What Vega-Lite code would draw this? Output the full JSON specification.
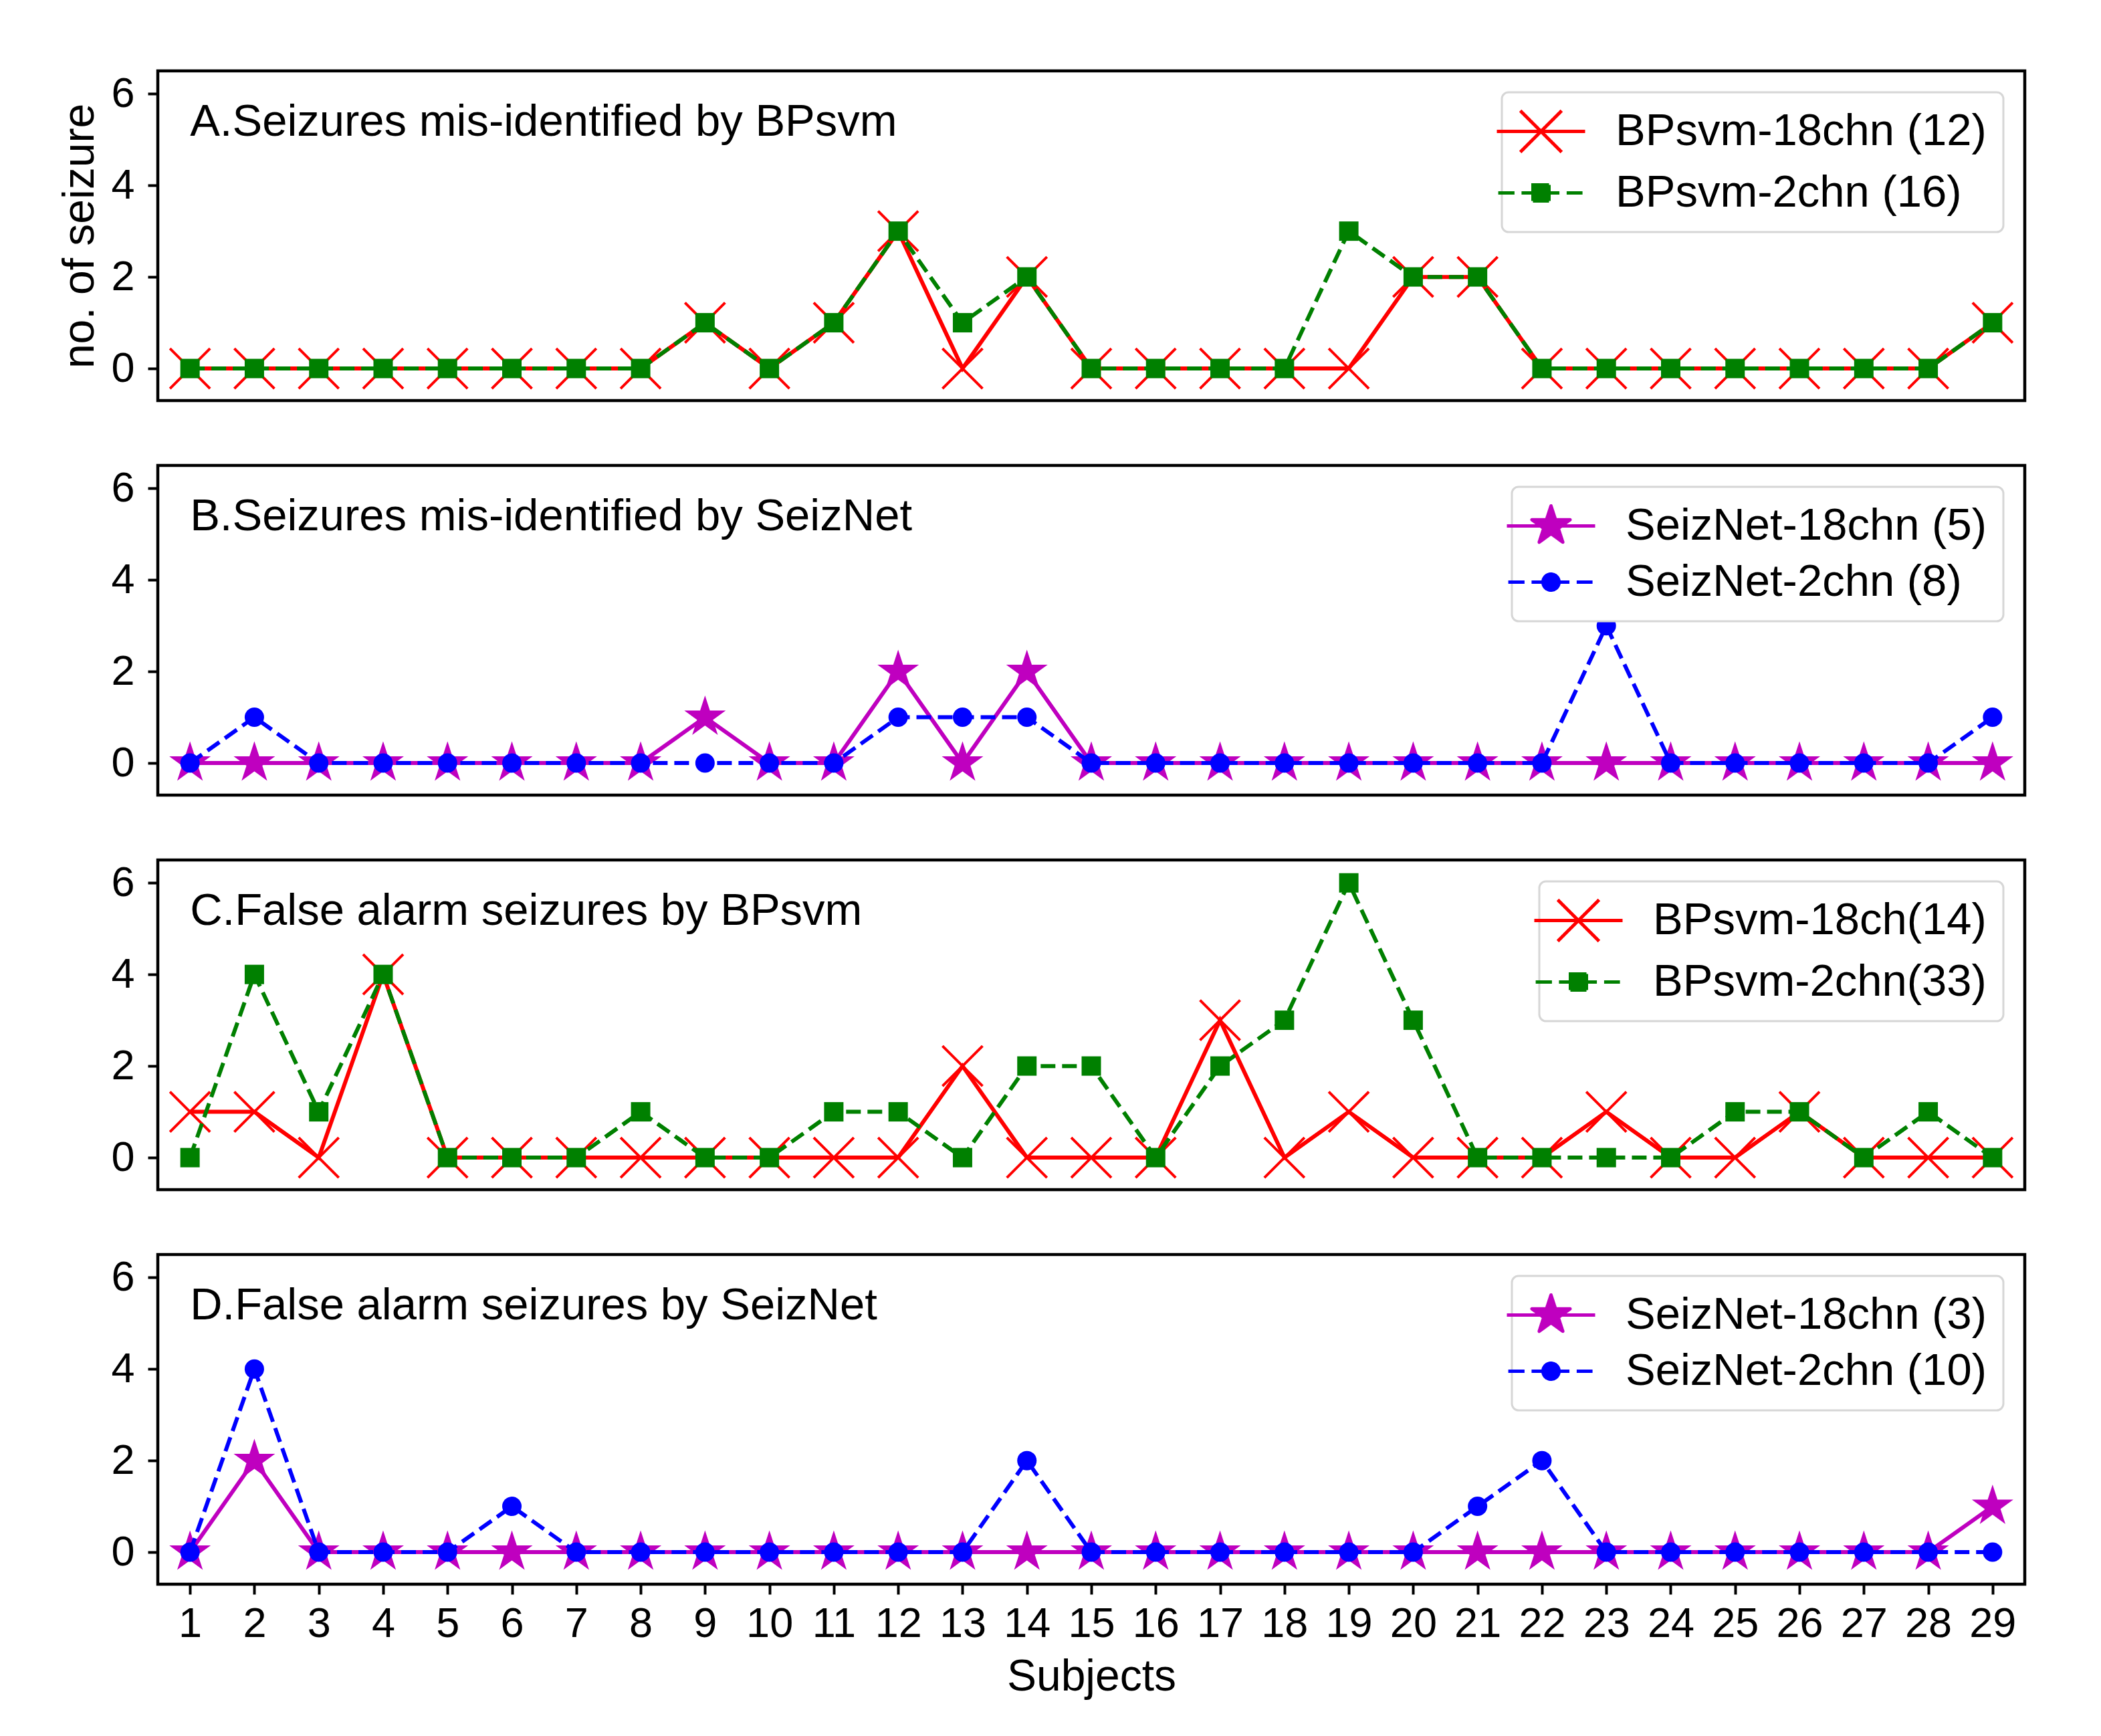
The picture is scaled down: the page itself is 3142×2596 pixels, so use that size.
{
  "$schema": "https://vega.github.io/schema/vega-lite/v6.json",
  "background": "white",
  "padding": {"left": 84, "top": 103, "right": 114, "bottom": 50},
  "spacing": 97,
  "bounds": "flush",
  "resolve": {"scale": {"color": "independent"}, "legend": {"color": "independent"}},
  "config": {
    "font": "Liberation Sans",
    "view": {"stroke": "black", "strokeWidth": 4.5},
    "axis": {"domain": false, "grid": false, "tickSize": 15, "tickWidth": 4, "tickColor": "black", "labelFont": "Liberation Sans", "labelFontSize": 63, "labelColor": "black", "titleFont": "Liberation Sans", "titleFontSize": 66, "titleFontWeight": "normal", "titleColor": "black"},
    "axisY": {"labelPadding": 20, "titlePadding": 12},
    "axisX": {"labelPadding": 13, "titlePadding": 15},
    "legend": {"orient": "top-right", "offset": 32, "labelFont": "Liberation Sans", "labelFontSize": 67, "labelColor": "black", "labelOffset": 78, "labelLimit": 2000, "padding": 25, "rowPadding": 16, "strokeColor": "#d6d6d6", "fillColor": "white", "cornerRadius": 10, "symbolSize": 3600, "symbolStrokeWidth": 5}
  },
  "vconcat": [
    {
      "width": 2792, "height": 493,
      "layer": [
        {
          "data": {"values": [
            {"subject":1,"series":"BPsvm-18chn (12)","count":0},{"subject":2,"series":"BPsvm-18chn (12)","count":0},{"subject":3,"series":"BPsvm-18chn (12)","count":0},{"subject":4,"series":"BPsvm-18chn (12)","count":0},{"subject":5,"series":"BPsvm-18chn (12)","count":0},{"subject":6,"series":"BPsvm-18chn (12)","count":0},{"subject":7,"series":"BPsvm-18chn (12)","count":0},{"subject":8,"series":"BPsvm-18chn (12)","count":0},{"subject":9,"series":"BPsvm-18chn (12)","count":1},{"subject":10,"series":"BPsvm-18chn (12)","count":0},{"subject":11,"series":"BPsvm-18chn (12)","count":1},{"subject":12,"series":"BPsvm-18chn (12)","count":3},{"subject":13,"series":"BPsvm-18chn (12)","count":0},{"subject":14,"series":"BPsvm-18chn (12)","count":2},{"subject":15,"series":"BPsvm-18chn (12)","count":0},{"subject":16,"series":"BPsvm-18chn (12)","count":0},{"subject":17,"series":"BPsvm-18chn (12)","count":0},{"subject":18,"series":"BPsvm-18chn (12)","count":0},{"subject":19,"series":"BPsvm-18chn (12)","count":0},{"subject":20,"series":"BPsvm-18chn (12)","count":2},{"subject":21,"series":"BPsvm-18chn (12)","count":2},{"subject":22,"series":"BPsvm-18chn (12)","count":0},{"subject":23,"series":"BPsvm-18chn (12)","count":0},{"subject":24,"series":"BPsvm-18chn (12)","count":0},{"subject":25,"series":"BPsvm-18chn (12)","count":0},{"subject":26,"series":"BPsvm-18chn (12)","count":0},{"subject":27,"series":"BPsvm-18chn (12)","count":0},{"subject":28,"series":"BPsvm-18chn (12)","count":0},{"subject":29,"series":"BPsvm-18chn (12)","count":1},
            {"subject":1,"series":"BPsvm-2chn (16)","count":0},{"subject":2,"series":"BPsvm-2chn (16)","count":0},{"subject":3,"series":"BPsvm-2chn (16)","count":0},{"subject":4,"series":"BPsvm-2chn (16)","count":0},{"subject":5,"series":"BPsvm-2chn (16)","count":0},{"subject":6,"series":"BPsvm-2chn (16)","count":0},{"subject":7,"series":"BPsvm-2chn (16)","count":0},{"subject":8,"series":"BPsvm-2chn (16)","count":0},{"subject":9,"series":"BPsvm-2chn (16)","count":1},{"subject":10,"series":"BPsvm-2chn (16)","count":0},{"subject":11,"series":"BPsvm-2chn (16)","count":1},{"subject":12,"series":"BPsvm-2chn (16)","count":3},{"subject":13,"series":"BPsvm-2chn (16)","count":1},{"subject":14,"series":"BPsvm-2chn (16)","count":2},{"subject":15,"series":"BPsvm-2chn (16)","count":0},{"subject":16,"series":"BPsvm-2chn (16)","count":0},{"subject":17,"series":"BPsvm-2chn (16)","count":0},{"subject":18,"series":"BPsvm-2chn (16)","count":0},{"subject":19,"series":"BPsvm-2chn (16)","count":3},{"subject":20,"series":"BPsvm-2chn (16)","count":2},{"subject":21,"series":"BPsvm-2chn (16)","count":2},{"subject":22,"series":"BPsvm-2chn (16)","count":0},{"subject":23,"series":"BPsvm-2chn (16)","count":0},{"subject":24,"series":"BPsvm-2chn (16)","count":0},{"subject":25,"series":"BPsvm-2chn (16)","count":0},{"subject":26,"series":"BPsvm-2chn (16)","count":0},{"subject":27,"series":"BPsvm-2chn (16)","count":0},{"subject":28,"series":"BPsvm-2chn (16)","count":0},{"subject":29,"series":"BPsvm-2chn (16)","count":1}
          ]},
          "encoding": {
            "x": {"field": "subject", "type": "quantitative", "scale": {"domain": [0.5, 29.5], "nice": false, "zero": false}, "axis": null},
            "y": {"field": "count", "type": "quantitative", "scale": {"domain": [-0.7, 6.5], "nice": false, "zero": false}, "axis": {"values": [0, 2, 4, 6], "title": "no. of seizure"}}
          },
          "layer": [
            {"transform": [{"filter": "datum.series === 'BPsvm-18chn (12)'"}],
             "mark": {"type": "line", "strokeWidth": 6},
             "encoding": {"color": {"field": "series", "type": "nominal", "scale": {"domain": ["BPsvm-18chn (12)", "BPsvm-2chn (16)"], "range": ["#ff0000", "#008000"]},
               "legend": {"title": null, "encode": {"legend": {"update": {"strokeWidth": {"value": 3}}}, "symbols": {"update": {
                 "shape": {"signal": "datum.value === 'BPsvm-18chn (12)' ? 'M-2.2,0L2.2,0M-1.03,-1.03L1.03,1.03M-1.03,1.03L1.03,-1.03' : 'M-2.13,0L-1.32,0M-0.97,0L0.92,0M1.28,0L2.07,0M-0.4,-0.4L0.4,-0.4L0.4,0.4L-0.4,0.4Z'"},
                 "fill": {"signal": "datum.value === 'BPsvm-18chn (12)' ? '#ff0000' : '#008000'"},
                 "stroke": {"signal": "datum.value === 'BPsvm-18chn (12)' ? '#ff0000' : '#008000'"},
                 "strokeWidth": {"value": 5}, "strokeDash": {"value": [1, 0]}, "opacity": {"value": 1}}}}}}}},
            {"transform": [{"filter": "datum.series === 'BPsvm-18chn (12)'"}],
             "mark": {"type": "point", "shape": "M-1,-1L1,1M-1,1L1,-1", "filled": false, "size": 3600, "strokeWidth": 4, "color": "#ff0000", "opacity": 1}},
            {"transform": [{"filter": "datum.series === 'BPsvm-2chn (16)'"}],
             "mark": {"type": "line", "strokeWidth": 6, "strokeDash": [22, 10]},
             "encoding": {"color": {"field": "series", "type": "nominal"}}},
            {"transform": [{"filter": "datum.series === 'BPsvm-2chn (16)'"}],
             "mark": {"type": "point", "shape": "square", "filled": true, "size": 841, "strokeWidth": 0, "color": "#008000", "opacity": 1}}
          ]
        },
        {"data": {"values": [{"label": "A.Seizures mis-identified by BPsvm"}]},
         "mark": {"type": "text", "align": "left", "baseline": "alphabetic", "fontSize": 67, "font": "Liberation Sans", "color": "black"},
         "encoding": {
           "x": {"datum": 1.0, "type": "quantitative", "scale": {"domain": [0.5, 29.5], "nice": false, "zero": false}, "axis": null},
           "y": {"datum": 5.08, "type": "quantitative", "scale": {"domain": [-0.7, 6.5], "nice": false, "zero": false}, "axis": {"values": [0, 2, 4, 6], "title": "no. of seizure"}},
           "text": {"field": "label"}}}
      ]
    },
    {
      "width": 2792, "height": 493,
      "layer": [
        {
          "data": {"values": [
            {"subject":1,"series":"SeizNet-18chn (5)","count":0},{"subject":2,"series":"SeizNet-18chn (5)","count":0},{"subject":3,"series":"SeizNet-18chn (5)","count":0},{"subject":4,"series":"SeizNet-18chn (5)","count":0},{"subject":5,"series":"SeizNet-18chn (5)","count":0},{"subject":6,"series":"SeizNet-18chn (5)","count":0},{"subject":7,"series":"SeizNet-18chn (5)","count":0},{"subject":8,"series":"SeizNet-18chn (5)","count":0},{"subject":9,"series":"SeizNet-18chn (5)","count":1},{"subject":10,"series":"SeizNet-18chn (5)","count":0},{"subject":11,"series":"SeizNet-18chn (5)","count":0},{"subject":12,"series":"SeizNet-18chn (5)","count":2},{"subject":13,"series":"SeizNet-18chn (5)","count":0},{"subject":14,"series":"SeizNet-18chn (5)","count":2},{"subject":15,"series":"SeizNet-18chn (5)","count":0},{"subject":16,"series":"SeizNet-18chn (5)","count":0},{"subject":17,"series":"SeizNet-18chn (5)","count":0},{"subject":18,"series":"SeizNet-18chn (5)","count":0},{"subject":19,"series":"SeizNet-18chn (5)","count":0},{"subject":20,"series":"SeizNet-18chn (5)","count":0},{"subject":21,"series":"SeizNet-18chn (5)","count":0},{"subject":22,"series":"SeizNet-18chn (5)","count":0},{"subject":23,"series":"SeizNet-18chn (5)","count":0},{"subject":24,"series":"SeizNet-18chn (5)","count":0},{"subject":25,"series":"SeizNet-18chn (5)","count":0},{"subject":26,"series":"SeizNet-18chn (5)","count":0},{"subject":27,"series":"SeizNet-18chn (5)","count":0},{"subject":28,"series":"SeizNet-18chn (5)","count":0},{"subject":29,"series":"SeizNet-18chn (5)","count":0},
            {"subject":1,"series":"SeizNet-2chn (8)","count":0},{"subject":2,"series":"SeizNet-2chn (8)","count":1},{"subject":3,"series":"SeizNet-2chn (8)","count":0},{"subject":4,"series":"SeizNet-2chn (8)","count":0},{"subject":5,"series":"SeizNet-2chn (8)","count":0},{"subject":6,"series":"SeizNet-2chn (8)","count":0},{"subject":7,"series":"SeizNet-2chn (8)","count":0},{"subject":8,"series":"SeizNet-2chn (8)","count":0},{"subject":9,"series":"SeizNet-2chn (8)","count":0},{"subject":10,"series":"SeizNet-2chn (8)","count":0},{"subject":11,"series":"SeizNet-2chn (8)","count":0},{"subject":12,"series":"SeizNet-2chn (8)","count":1},{"subject":13,"series":"SeizNet-2chn (8)","count":1},{"subject":14,"series":"SeizNet-2chn (8)","count":1},{"subject":15,"series":"SeizNet-2chn (8)","count":0},{"subject":16,"series":"SeizNet-2chn (8)","count":0},{"subject":17,"series":"SeizNet-2chn (8)","count":0},{"subject":18,"series":"SeizNet-2chn (8)","count":0},{"subject":19,"series":"SeizNet-2chn (8)","count":0},{"subject":20,"series":"SeizNet-2chn (8)","count":0},{"subject":21,"series":"SeizNet-2chn (8)","count":0},{"subject":22,"series":"SeizNet-2chn (8)","count":0},{"subject":23,"series":"SeizNet-2chn (8)","count":3},{"subject":24,"series":"SeizNet-2chn (8)","count":0},{"subject":25,"series":"SeizNet-2chn (8)","count":0},{"subject":26,"series":"SeizNet-2chn (8)","count":0},{"subject":27,"series":"SeizNet-2chn (8)","count":0},{"subject":28,"series":"SeizNet-2chn (8)","count":0},{"subject":29,"series":"SeizNet-2chn (8)","count":1}
          ]},
          "encoding": {
            "x": {"field": "subject", "type": "quantitative", "scale": {"domain": [0.5, 29.5], "nice": false, "zero": false}, "axis": null},
            "y": {"field": "count", "type": "quantitative", "scale": {"domain": [-0.7, 6.5], "nice": false, "zero": false}, "axis": {"values": [0, 2, 4, 6], "title": null}}
          },
          "layer": [
            {"transform": [{"filter": "datum.series === 'SeizNet-18chn (5)'"}],
             "mark": {"type": "line", "strokeWidth": 6},
             "encoding": {"color": {"field": "series", "type": "nominal", "scale": {"domain": ["SeizNet-18chn (5)", "SeizNet-2chn (8)"], "range": ["#bf00bf", "#0000ff"]},
               "legend": {"title": null, "encode": {"legend": {"update": {"strokeWidth": {"value": 3}}}, "symbols": {"update": {
                 "shape": {"signal": "datum.value === 'SeizNet-18chn (5)' ? 'M-2.2,0L2.2,0M0,-1L0.2245,-0.309L0.9511,-0.309L0.3633,0.118L0.5878,0.809L0,0.382L-0.5878,0.809L-0.3633,0.118L-0.9511,-0.309L-0.2245,-0.309Z' : 'M-2.13,0L-1.32,0M-0.97,0L0.92,0M1.28,0L2.07,0M0.4,0A0.4,0.4,0,1,1,-0.4,0A0.4,0.4,0,1,1,0.4,0Z'"},
                 "fill": {"signal": "datum.value === 'SeizNet-18chn (5)' ? '#bf00bf' : '#0000ff'"},
                 "stroke": {"signal": "datum.value === 'SeizNet-18chn (5)' ? '#bf00bf' : '#0000ff'"},
                 "strokeWidth": {"value": 5}, "strokeJoin": {"value": "round"}, "strokeDash": {"value": [1, 0]}, "opacity": {"value": 1}}}}}}}},
            {"transform": [{"filter": "datum.series === 'SeizNet-18chn (5)'"}],
             "mark": {"type": "point", "shape": "M0,-1L0.2245,-0.309L0.9511,-0.309L0.3633,0.118L0.5878,0.809L0,0.382L-0.5878,0.809L-0.3633,0.118L-0.9511,-0.309L-0.2245,-0.309Z", "filled": true, "size": 4251, "strokeWidth": 0, "color": "#bf00bf", "opacity": 1}},
            {"transform": [{"filter": "datum.series === 'SeizNet-2chn (8)'"}],
             "mark": {"type": "line", "strokeWidth": 6, "strokeDash": [22, 10]},
             "encoding": {"color": {"field": "series", "type": "nominal"}}},
            {"transform": [{"filter": "datum.series === 'SeizNet-2chn (8)'"}],
             "mark": {"type": "point", "shape": "circle", "filled": true, "size": 841, "strokeWidth": 0, "color": "#0000ff", "opacity": 1}}
          ]
        },
        {"data": {"values": [{"label": "B.Seizures mis-identified by SeizNet"}]},
         "mark": {"type": "text", "align": "left", "baseline": "alphabetic", "fontSize": 67, "font": "Liberation Sans", "color": "black"},
         "encoding": {
           "x": {"datum": 1.0, "type": "quantitative", "scale": {"domain": [0.5, 29.5], "nice": false, "zero": false}, "axis": null},
           "y": {"datum": 5.08, "type": "quantitative", "scale": {"domain": [-0.7, 6.5], "nice": false, "zero": false}, "axis": {"values": [0, 2, 4, 6], "title": null}},
           "text": {"field": "label"}}}
      ]
    },
    {
      "width": 2792, "height": 493,
      "layer": [
        {
          "data": {"values": [
            {"subject":1,"series":"BPsvm-18ch(14)","count":1},{"subject":2,"series":"BPsvm-18ch(14)","count":1},{"subject":3,"series":"BPsvm-18ch(14)","count":0},{"subject":4,"series":"BPsvm-18ch(14)","count":4},{"subject":5,"series":"BPsvm-18ch(14)","count":0},{"subject":6,"series":"BPsvm-18ch(14)","count":0},{"subject":7,"series":"BPsvm-18ch(14)","count":0},{"subject":8,"series":"BPsvm-18ch(14)","count":0},{"subject":9,"series":"BPsvm-18ch(14)","count":0},{"subject":10,"series":"BPsvm-18ch(14)","count":0},{"subject":11,"series":"BPsvm-18ch(14)","count":0},{"subject":12,"series":"BPsvm-18ch(14)","count":0},{"subject":13,"series":"BPsvm-18ch(14)","count":2},{"subject":14,"series":"BPsvm-18ch(14)","count":0},{"subject":15,"series":"BPsvm-18ch(14)","count":0},{"subject":16,"series":"BPsvm-18ch(14)","count":0},{"subject":17,"series":"BPsvm-18ch(14)","count":3},{"subject":18,"series":"BPsvm-18ch(14)","count":0},{"subject":19,"series":"BPsvm-18ch(14)","count":1},{"subject":20,"series":"BPsvm-18ch(14)","count":0},{"subject":21,"series":"BPsvm-18ch(14)","count":0},{"subject":22,"series":"BPsvm-18ch(14)","count":0},{"subject":23,"series":"BPsvm-18ch(14)","count":1},{"subject":24,"series":"BPsvm-18ch(14)","count":0},{"subject":25,"series":"BPsvm-18ch(14)","count":0},{"subject":26,"series":"BPsvm-18ch(14)","count":1},{"subject":27,"series":"BPsvm-18ch(14)","count":0},{"subject":28,"series":"BPsvm-18ch(14)","count":0},{"subject":29,"series":"BPsvm-18ch(14)","count":0},
            {"subject":1,"series":"BPsvm-2chn(33)","count":0},{"subject":2,"series":"BPsvm-2chn(33)","count":4},{"subject":3,"series":"BPsvm-2chn(33)","count":1},{"subject":4,"series":"BPsvm-2chn(33)","count":4},{"subject":5,"series":"BPsvm-2chn(33)","count":0},{"subject":6,"series":"BPsvm-2chn(33)","count":0},{"subject":7,"series":"BPsvm-2chn(33)","count":0},{"subject":8,"series":"BPsvm-2chn(33)","count":1},{"subject":9,"series":"BPsvm-2chn(33)","count":0},{"subject":10,"series":"BPsvm-2chn(33)","count":0},{"subject":11,"series":"BPsvm-2chn(33)","count":1},{"subject":12,"series":"BPsvm-2chn(33)","count":1},{"subject":13,"series":"BPsvm-2chn(33)","count":0},{"subject":14,"series":"BPsvm-2chn(33)","count":2},{"subject":15,"series":"BPsvm-2chn(33)","count":2},{"subject":16,"series":"BPsvm-2chn(33)","count":0},{"subject":17,"series":"BPsvm-2chn(33)","count":2},{"subject":18,"series":"BPsvm-2chn(33)","count":3},{"subject":19,"series":"BPsvm-2chn(33)","count":6},{"subject":20,"series":"BPsvm-2chn(33)","count":3},{"subject":21,"series":"BPsvm-2chn(33)","count":0},{"subject":22,"series":"BPsvm-2chn(33)","count":0},{"subject":23,"series":"BPsvm-2chn(33)","count":0},{"subject":24,"series":"BPsvm-2chn(33)","count":0},{"subject":25,"series":"BPsvm-2chn(33)","count":1},{"subject":26,"series":"BPsvm-2chn(33)","count":1},{"subject":27,"series":"BPsvm-2chn(33)","count":0},{"subject":28,"series":"BPsvm-2chn(33)","count":1},{"subject":29,"series":"BPsvm-2chn(33)","count":0}
          ]},
          "encoding": {
            "x": {"field": "subject", "type": "quantitative", "scale": {"domain": [0.5, 29.5], "nice": false, "zero": false}, "axis": null},
            "y": {"field": "count", "type": "quantitative", "scale": {"domain": [-0.7, 6.5], "nice": false, "zero": false}, "axis": {"values": [0, 2, 4, 6], "title": null}}
          },
          "layer": [
            {"transform": [{"filter": "datum.series === 'BPsvm-18ch(14)'"}],
             "mark": {"type": "line", "strokeWidth": 6},
             "encoding": {"color": {"field": "series", "type": "nominal", "scale": {"domain": ["BPsvm-18ch(14)", "BPsvm-2chn(33)"], "range": ["#ff0000", "#008000"]},
               "legend": {"title": null, "encode": {"legend": {"update": {"strokeWidth": {"value": 3}}}, "symbols": {"update": {
                 "shape": {"signal": "datum.value === 'BPsvm-18ch(14)' ? 'M-2.2,0L2.2,0M-1.03,-1.03L1.03,1.03M-1.03,1.03L1.03,-1.03' : 'M-2.13,0L-1.32,0M-0.97,0L0.92,0M1.28,0L2.07,0M-0.4,-0.4L0.4,-0.4L0.4,0.4L-0.4,0.4Z'"},
                 "fill": {"signal": "datum.value === 'BPsvm-18ch(14)' ? '#ff0000' : '#008000'"},
                 "stroke": {"signal": "datum.value === 'BPsvm-18ch(14)' ? '#ff0000' : '#008000'"},
                 "strokeWidth": {"value": 5}, "strokeDash": {"value": [1, 0]}, "opacity": {"value": 1}}}}}}}},
            {"transform": [{"filter": "datum.series === 'BPsvm-18ch(14)'"}],
             "mark": {"type": "point", "shape": "M-1,-1L1,1M-1,1L1,-1", "filled": false, "size": 3600, "strokeWidth": 4, "color": "#ff0000", "opacity": 1}},
            {"transform": [{"filter": "datum.series === 'BPsvm-2chn(33)'"}],
             "mark": {"type": "line", "strokeWidth": 6, "strokeDash": [22, 10]},
             "encoding": {"color": {"field": "series", "type": "nominal"}}},
            {"transform": [{"filter": "datum.series === 'BPsvm-2chn(33)'"}],
             "mark": {"type": "point", "shape": "square", "filled": true, "size": 841, "strokeWidth": 0, "color": "#008000", "opacity": 1}}
          ]
        },
        {"data": {"values": [{"label": "C.False alarm seizures by BPsvm"}]},
         "mark": {"type": "text", "align": "left", "baseline": "alphabetic", "fontSize": 67, "font": "Liberation Sans", "color": "black"},
         "encoding": {
           "x": {"datum": 1.0, "type": "quantitative", "scale": {"domain": [0.5, 29.5], "nice": false, "zero": false}, "axis": null},
           "y": {"datum": 5.08, "type": "quantitative", "scale": {"domain": [-0.7, 6.5], "nice": false, "zero": false}, "axis": {"values": [0, 2, 4, 6], "title": null}},
           "text": {"field": "label"}}}
      ]
    },
    {
      "width": 2792, "height": 493,
      "layer": [
        {
          "data": {"values": [
            {"subject":1,"series":"SeizNet-18chn (3)","count":0},{"subject":2,"series":"SeizNet-18chn (3)","count":2},{"subject":3,"series":"SeizNet-18chn (3)","count":0},{"subject":4,"series":"SeizNet-18chn (3)","count":0},{"subject":5,"series":"SeizNet-18chn (3)","count":0},{"subject":6,"series":"SeizNet-18chn (3)","count":0},{"subject":7,"series":"SeizNet-18chn (3)","count":0},{"subject":8,"series":"SeizNet-18chn (3)","count":0},{"subject":9,"series":"SeizNet-18chn (3)","count":0},{"subject":10,"series":"SeizNet-18chn (3)","count":0},{"subject":11,"series":"SeizNet-18chn (3)","count":0},{"subject":12,"series":"SeizNet-18chn (3)","count":0},{"subject":13,"series":"SeizNet-18chn (3)","count":0},{"subject":14,"series":"SeizNet-18chn (3)","count":0},{"subject":15,"series":"SeizNet-18chn (3)","count":0},{"subject":16,"series":"SeizNet-18chn (3)","count":0},{"subject":17,"series":"SeizNet-18chn (3)","count":0},{"subject":18,"series":"SeizNet-18chn (3)","count":0},{"subject":19,"series":"SeizNet-18chn (3)","count":0},{"subject":20,"series":"SeizNet-18chn (3)","count":0},{"subject":21,"series":"SeizNet-18chn (3)","count":0},{"subject":22,"series":"SeizNet-18chn (3)","count":0},{"subject":23,"series":"SeizNet-18chn (3)","count":0},{"subject":24,"series":"SeizNet-18chn (3)","count":0},{"subject":25,"series":"SeizNet-18chn (3)","count":0},{"subject":26,"series":"SeizNet-18chn (3)","count":0},{"subject":27,"series":"SeizNet-18chn (3)","count":0},{"subject":28,"series":"SeizNet-18chn (3)","count":0},{"subject":29,"series":"SeizNet-18chn (3)","count":1},
            {"subject":1,"series":"SeizNet-2chn (10)","count":0},{"subject":2,"series":"SeizNet-2chn (10)","count":4},{"subject":3,"series":"SeizNet-2chn (10)","count":0},{"subject":4,"series":"SeizNet-2chn (10)","count":0},{"subject":5,"series":"SeizNet-2chn (10)","count":0},{"subject":6,"series":"SeizNet-2chn (10)","count":1},{"subject":7,"series":"SeizNet-2chn (10)","count":0},{"subject":8,"series":"SeizNet-2chn (10)","count":0},{"subject":9,"series":"SeizNet-2chn (10)","count":0},{"subject":10,"series":"SeizNet-2chn (10)","count":0},{"subject":11,"series":"SeizNet-2chn (10)","count":0},{"subject":12,"series":"SeizNet-2chn (10)","count":0},{"subject":13,"series":"SeizNet-2chn (10)","count":0},{"subject":14,"series":"SeizNet-2chn (10)","count":2},{"subject":15,"series":"SeizNet-2chn (10)","count":0},{"subject":16,"series":"SeizNet-2chn (10)","count":0},{"subject":17,"series":"SeizNet-2chn (10)","count":0},{"subject":18,"series":"SeizNet-2chn (10)","count":0},{"subject":19,"series":"SeizNet-2chn (10)","count":0},{"subject":20,"series":"SeizNet-2chn (10)","count":0},{"subject":21,"series":"SeizNet-2chn (10)","count":1},{"subject":22,"series":"SeizNet-2chn (10)","count":2},{"subject":23,"series":"SeizNet-2chn (10)","count":0},{"subject":24,"series":"SeizNet-2chn (10)","count":0},{"subject":25,"series":"SeizNet-2chn (10)","count":0},{"subject":26,"series":"SeizNet-2chn (10)","count":0},{"subject":27,"series":"SeizNet-2chn (10)","count":0},{"subject":28,"series":"SeizNet-2chn (10)","count":0},{"subject":29,"series":"SeizNet-2chn (10)","count":0}
          ]},
          "encoding": {
            "x": {"field": "subject", "type": "quantitative", "scale": {"domain": [0.5, 29.5], "nice": false, "zero": false}, "axis": {"values": [1,2,3,4,5,6,7,8,9,10,11,12,13,14,15,16,17,18,19,20,21,22,23,24,25,26,27,28,29], "title": "Subjects", "labelOverlap": false, "labelFlush": false}},
            "y": {"field": "count", "type": "quantitative", "scale": {"domain": [-0.7, 6.5], "nice": false, "zero": false}, "axis": {"values": [0, 2, 4, 6], "title": null}}
          },
          "layer": [
            {"transform": [{"filter": "datum.series === 'SeizNet-18chn (3)'"}],
             "mark": {"type": "line", "strokeWidth": 6},
             "encoding": {"color": {"field": "series", "type": "nominal", "scale": {"domain": ["SeizNet-18chn (3)", "SeizNet-2chn (10)"], "range": ["#bf00bf", "#0000ff"]},
               "legend": {"title": null, "encode": {"legend": {"update": {"strokeWidth": {"value": 3}}}, "symbols": {"update": {
                 "shape": {"signal": "datum.value === 'SeizNet-18chn (3)' ? 'M-2.2,0L2.2,0M0,-1L0.2245,-0.309L0.9511,-0.309L0.3633,0.118L0.5878,0.809L0,0.382L-0.5878,0.809L-0.3633,0.118L-0.9511,-0.309L-0.2245,-0.309Z' : 'M-2.13,0L-1.32,0M-0.97,0L0.92,0M1.28,0L2.07,0M0.4,0A0.4,0.4,0,1,1,-0.4,0A0.4,0.4,0,1,1,0.4,0Z'"},
                 "fill": {"signal": "datum.value === 'SeizNet-18chn (3)' ? '#bf00bf' : '#0000ff'"},
                 "stroke": {"signal": "datum.value === 'SeizNet-18chn (3)' ? '#bf00bf' : '#0000ff'"},
                 "strokeWidth": {"value": 5}, "strokeJoin": {"value": "round"}, "strokeDash": {"value": [1, 0]}, "opacity": {"value": 1}}}}}}}},
            {"transform": [{"filter": "datum.series === 'SeizNet-18chn (3)'"}],
             "mark": {"type": "point", "shape": "M0,-1L0.2245,-0.309L0.9511,-0.309L0.3633,0.118L0.5878,0.809L0,0.382L-0.5878,0.809L-0.3633,0.118L-0.9511,-0.309L-0.2245,-0.309Z", "filled": true, "size": 4251, "strokeWidth": 0, "color": "#bf00bf", "opacity": 1}},
            {"transform": [{"filter": "datum.series === 'SeizNet-2chn (10)'"}],
             "mark": {"type": "line", "strokeWidth": 6, "strokeDash": [22, 10]},
             "encoding": {"color": {"field": "series", "type": "nominal"}}},
            {"transform": [{"filter": "datum.series === 'SeizNet-2chn (10)'"}],
             "mark": {"type": "point", "shape": "circle", "filled": true, "size": 841, "strokeWidth": 0, "color": "#0000ff", "opacity": 1}}
          ]
        },
        {"data": {"values": [{"label": "D.False alarm seizures by SeizNet"}]},
         "mark": {"type": "text", "align": "left", "baseline": "alphabetic", "fontSize": 67, "font": "Liberation Sans", "color": "black"},
         "encoding": {
           "x": {"datum": 1.0, "type": "quantitative", "scale": {"domain": [0.5, 29.5], "nice": false, "zero": false}, "axis": {"values": [1,2,3,4,5,6,7,8,9,10,11,12,13,14,15,16,17,18,19,20,21,22,23,24,25,26,27,28,29], "title": "Subjects", "labelOverlap": false, "labelFlush": false}},
           "y": {"datum": 5.08, "type": "quantitative", "scale": {"domain": [-0.7, 6.5], "nice": false, "zero": false}, "axis": {"values": [0, 2, 4, 6], "title": null}},
           "text": {"field": "label"}}}
      ]
    }
  ]
}
